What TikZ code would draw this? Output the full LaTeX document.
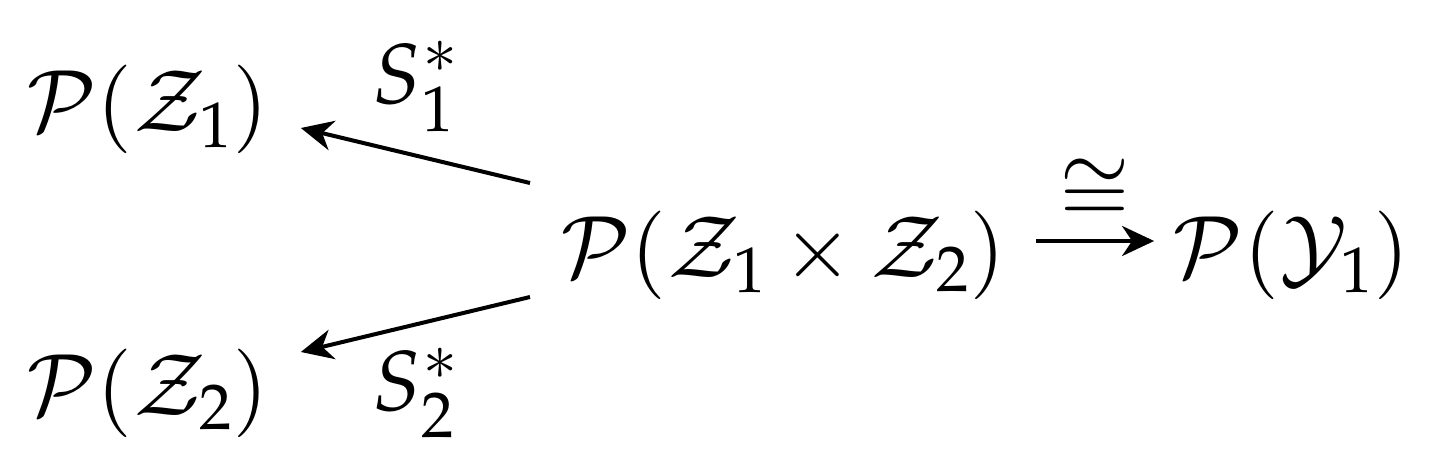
\documentclass[tikz,border=0pt]{standalone}
\usepackage{mathpazo}
\usetikzlibrary{arrows.meta}
\begin{document}
\begin{tikzpicture}[x=1pt,y=-1pt,
  font=\fontsize{85}{100}\selectfont,
  obj/.style={inner sep=0pt,outer sep=0pt},
  lbl/.style={inner sep=0pt,outer sep=0pt},
  arr/.style={line width=4pt,-{Stealth[length=32pt,width=30pt,inset=10pt]}}]
\useasboundingbox (0,0) rectangle (1437,470);
\node[obj,anchor=base west] (pz1) at (26,132) {$\mathcal{P}(\mathcal{Z}_1)$};
\node[obj,anchor=base west] (pz2) at (26,415) {$\mathcal{P}(\mathcal{Z}_2)$};
\node[obj,anchor=base west] (mid) at (560,277) {$\mathcal{P}(\mathcal{Z}_1\times\mathcal{Z}_2)$};
\node[obj,anchor=base east] (py) at (1410,277) {$\mathcal{P}(\mathcal{Y}_1)$};
\draw[arr] ([shift={(-30,-94)}]mid.base west) -- node[lbl,pos=0.5,above=24pt] (s1) {$S_1^*$} ([shift={(32,-4)}]pz1.base east);
\draw[arr] ([shift={(-30,20)}]mid.base west) -- node[lbl,pos=0.5,below=24pt] (s2) {$S_2^*$} ([shift={(32,-63)}]pz2.base east);
\draw[arr] ([shift={(30,-36)}]mid.base east) -- node[lbl,above=18pt] (iso) {$\cong$} ([shift={(-18,-36)}]py.base west);
\end{tikzpicture}
\end{document}
